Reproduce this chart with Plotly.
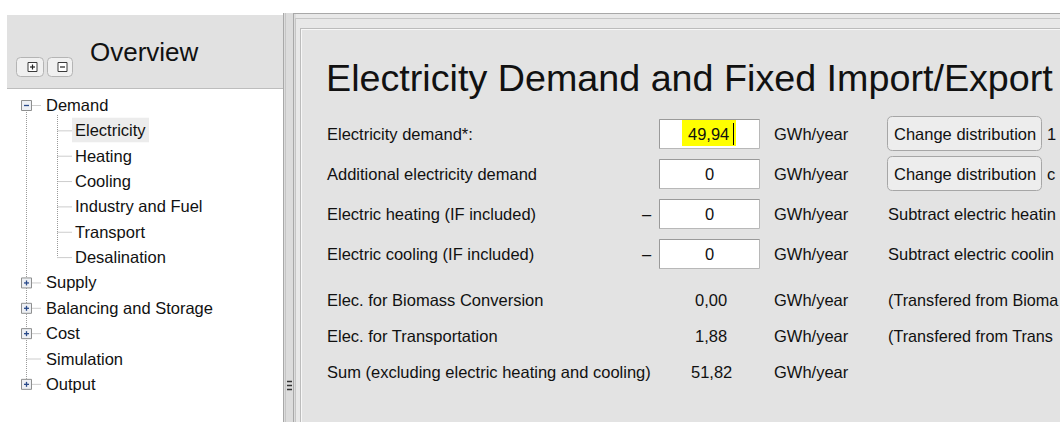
import plotly.graph_objects as go

# ---------------- content ----------------
overview_title = "Overview"
tree_top = ["Demand", "Supply", "Balancing and Storage", "Cost", "Simulation", "Output"]
tree_top_kind = ["minus", "plus", "plus", "plus", "leaf", "plus"]
demand_children = ["Electricity", "Heating", "Cooling", "Industry and Fuel", "Transport", "Desalination"]
selected_item = "Electricity"

page_title = "Electricity Demand and Fixed Import/Export"
input_labels = [
    "Electricity demand*:",
    "Additional electricity demand",
    "Electric heating (IF included)",
    "Electric cooling (IF included)",
]
input_values = ["49,94", "0", "0", "0"]
input_signs = ["", "", "\u2013", "\u2013"]
input_buttons = ["Change distribution", "Change distribution", "", ""]
# visible part of the texts (window edge cuts them in the original)
input_side_text = ["1", "c", "Subtract electric heatin", "Subtract electric coolin"]
highlighted_row = 0

computed_labels = [
    "Elec. for Biomass Conversion",
    "Elec. for Transportation",
    "Sum (excluding electric heating and cooling)",
]
computed_values = ["0,00", "1,88", "51,82"]
computed_side_text = ["(Transfered from Bioma", "(Transfered from Trans", ""]
unit_label = "GWh/year"

# ---------------- layout / style ----------------
W, H = 1060, 422
FONT = "Liberation Sans, Arial, sans-serif"
FS = 16.5
TXT = "#111111"
PANEL = "#e3e3e3"

shapes = []
ann = []


def rect(x0, y0, x1, y1, fill, line=None, lw=1):
    shapes.append(dict(type="rect", xref="x", yref="y", x0=x0, y0=y0, x1=x1, y1=y1,
                       fillcolor=fill, line=dict(color=line or fill, width=lw if line else 0)))


def hline(x0, x1, y, color, lw=1, dash="solid"):
    shapes.append(dict(type="line", xref="x", yref="y", x0=x0, x1=x1, y0=y, y1=y,
                       line=dict(color=color, width=lw, dash=dash)))


def vline(x, y0, y1, color, lw=1, dash="solid"):
    shapes.append(dict(type="line", xref="x", yref="y", x0=x, x1=x, y0=y0, y1=y1,
                       line=dict(color=color, width=lw, dash=dash)))


def rrect(x0, y0, x1, y1, r, fill, line):
    p = (f"M{x0+r},{y0} L{x1-r},{y0} Q{x1},{y0} {x1},{y0+r} L{x1},{y1-r} Q{x1},{y1} {x1-r},{y1} "
         f"L{x0+r},{y1} Q{x0},{y1} {x0},{y1-r} L{x0},{y0+r} Q{x0},{y0} {x0+r},{y0} Z")
    shapes.append(dict(type="path", xref="x", yref="y", path=p, fillcolor=fill,
                       line=dict(color=line, width=1)))


def txt(x, y, s, size=FS, anchor="left", color=TXT):
    ann.append(dict(x=x, y=y, xref="x", yref="y", text=s, showarrow=False,
                    xanchor=anchor, yanchor="middle", borderpad=0,
                    font=dict(family=FONT, size=size, color=color)))


# ---------- left panel ----------
rect(7, 15, 283, 88, "#e1e1e1")
hline(7, 283, 88.5, "#bdbdbd")
# header buttons
for bx0, bx1, kind in [(16, 43, "plus"), (47, 72, "minus")]:
    rrect(bx0 + 0.5, 57.5, bx1 + 0.5, 76.5, 4, "#f0f0f0", "#b4b4b4")
    cx = (bx0 + bx1) / 2 + 3
    rect(cx - 4.5, 62.5, cx + 4.5, 71.5, "#ffffff", "#3a3a3a")
    hline(cx - 2.5, cx + 2.5, 67, "#222222", 1.2)
    if kind == "plus":
        vline(cx, 64.5, 69.5, "#222222", 1.2)
txt(89, 52, overview_title, size=26)

# tree
ROW = 25.35
Y0 = 105
BX = 26.5
r = 0
top_y = []
child_y = []
for name, kind in zip(tree_top, tree_top_kind):
    yc = Y0 + ROW * r
    top_y.append(yc)
    r += 1
    if kind == "minus":
        for c in demand_children:
            child_y.append(Y0 + ROW * r)
            r += 1

DOT = "1px,1px"
vline(BX, top_y[0] + 5, top_y[-1] - 5, "#9a9a9a", 1, DOT)
vline(57.5, top_y[0] + 10, child_y[-1], "#9a9a9a", 1, DOT)
for c, yc in zip(demand_children, child_y):
    if c == selected_item:
        rect(72, yc - 12.5, 149, yc + 12, "#ececec")
    hline(57.5, 72, yc + 0.5, "#9a9a9a", 1, DOT)
    txt(74, yc, c)
for name, kind, yc in zip(tree_top, tree_top_kind, top_y):
    if kind == "leaf":
        hline(BX, 41, yc + 0.5, "#9a9a9a", 1, DOT)
    else:
        hline(BX + 5, 41, yc + 0.5, "#9a9a9a", 1, DOT)
        rect(BX - 5, yc - 4.5, BX + 5, yc + 5.5, "#eef0f4", "#8e8f8f")
        hline(BX - 2.5, BX + 2.5, yc + 0.5, "#2a4a8a", 1.3)
        if kind == "plus":
            vline(BX, yc - 2, yc + 3, "#2a4a8a", 1.3)
    txt(45, yc, name)

# ---------- splitter ----------
rect(283, 13, 300, 422, "#dcdcdc")
vline(283.5, 13, 422, "#a8a8a8")
vline(285.5, 13, 422, "#c6c6c6")
vline(293.5, 13, 422, "#a8a8a8")
vline(295.5, 18, 422, "#c6c6c6")
for gy in (381.5, 385.5, 389.5):
    hline(287, 292, gy, "#333333", 1.5)

# ---------- right container ----------
rect(296, 13, 1060, 422, "#e8e8e8")
hline(293, 1060, 13.5, "#a8a8a8")
hline(296, 1060, 18.5, "#c6c6c6")
rect(300, 28, 1060, 422, PANEL)
hline(300, 1060, 28.5, "#bcbcbc")
vline(300.5, 28, 422, "#bcbcbc")
hline(301, 1060, 29.5, "#f7f7f7")
vline(301.5, 29, 422, "#f7f7f7")

txt(325, 77.5, page_title, size=37.7)

# input rows
for i, (lab, val, sign, btn, side) in enumerate(zip(input_labels, input_values, input_signs,
                                                     input_buttons, input_side_text)):
    yc = 134 + 40 * i
    txt(326, yc, lab)
    if sign:
        txt(647, yc, sign, anchor="center")
    rect(659.5, yc - 14.5, 759.5, yc + 14.5, "#ffffff", "#b8b8b8")
    hline(659.5, 759.5, yc - 14.5, "#9a9a9a")
    vline(659.5, yc - 14.5, yc + 14.5, "#9a9a9a")
    if i == highlighted_row:
        rect(682, yc - 14, 736, yc + 12, "#ffff00")
        vline(733.5, yc - 11, yc + 11, "#000000")
        txt(708, yc, val, anchor="center")
    else:
        txt(709.5, yc, val, anchor="center")
    txt(773, yc, unit_label)
    if btn:
        rrect(887.5, yc - 17.5, 1041.5, yc + 16.5, 5, "#ededed", "#a6a6a6")
        txt(964.5, yc, btn, anchor="center")
        txt(1046, yc, side)
    else:
        txt(887, yc, side)

# computed rows
for k, (lab, val, side) in enumerate(zip(computed_labels, computed_values, computed_side_text)):
    yc = 299.5 + 36 * k
    txt(326, yc, lab)
    txt(711, yc, val, anchor="center")
    txt(773, yc, unit_label)
    if side:
        txt(887, yc, side, size=16.2)

fig = go.Figure()
fig.update_layout(
    width=W, height=H,
    margin=dict(l=0, r=0, t=0, b=0),
    paper_bgcolor="#ffffff", plot_bgcolor="#ffffff",
    xaxis=dict(range=[0, W], visible=False, fixedrange=True),
    yaxis=dict(range=[H, 0], visible=False, fixedrange=True),
    shapes=shapes, annotations=ann, showlegend=False,
)
fig.write_html("out.html", config={"displayModeBar": False, "staticPlot": True},
               post_script="document.body.style.margin='0';document.body.style.overflow='hidden';")
